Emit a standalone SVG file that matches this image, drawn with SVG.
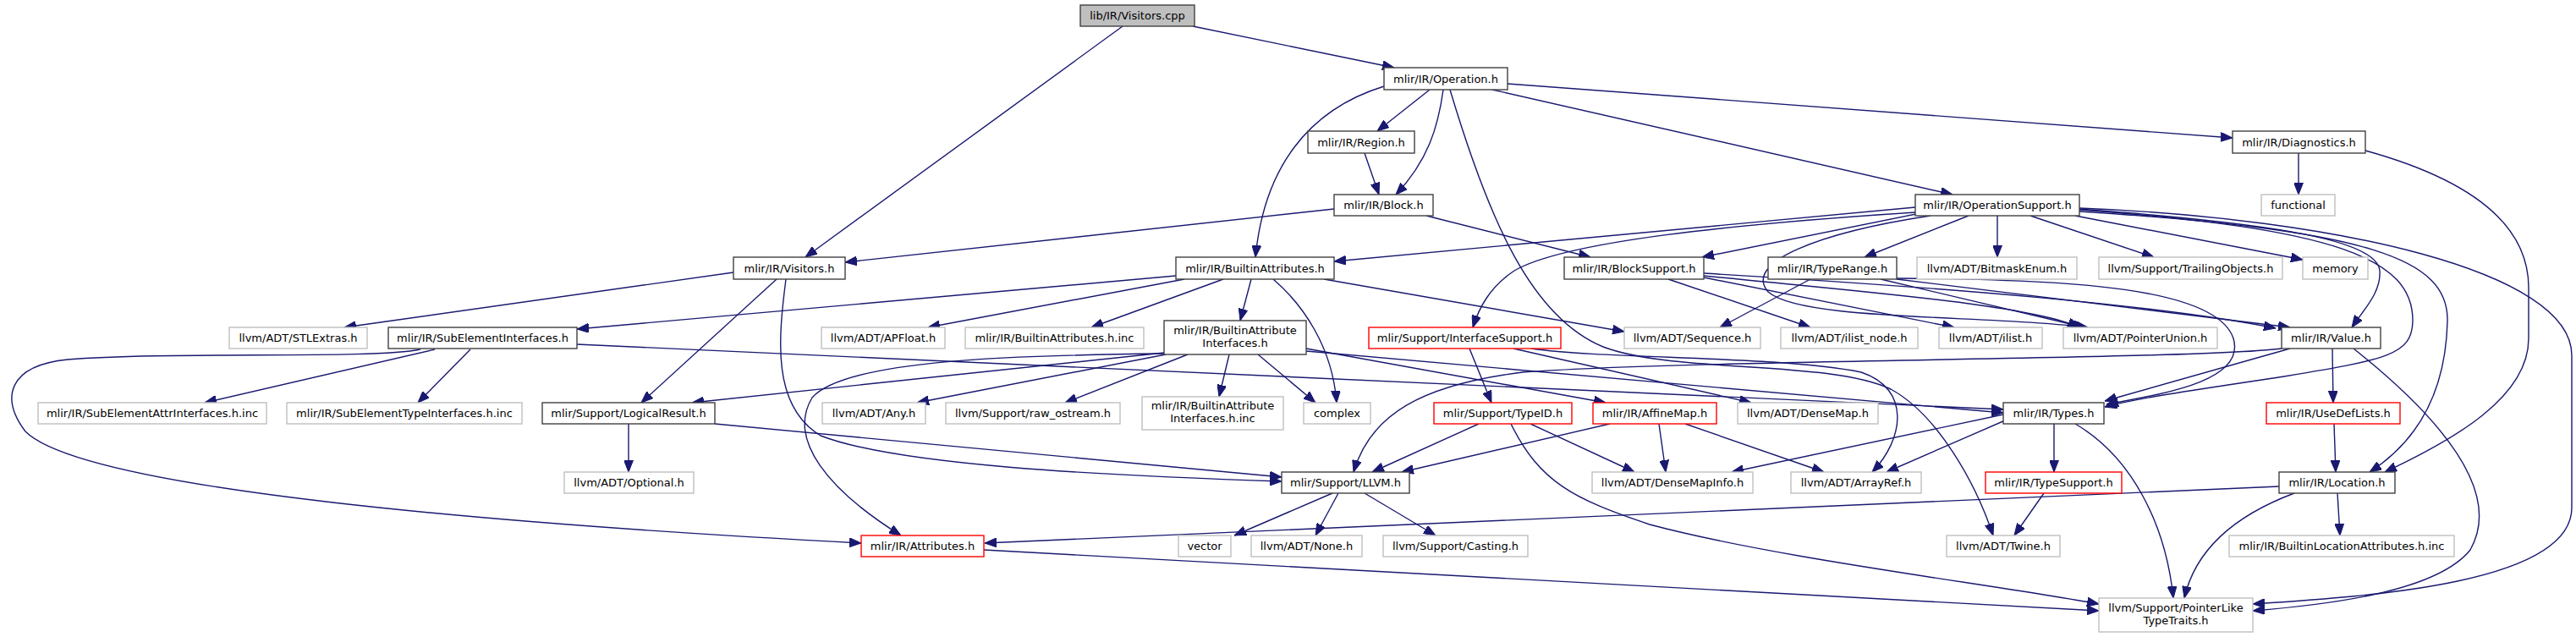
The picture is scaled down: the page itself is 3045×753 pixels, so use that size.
<svg xmlns="http://www.w3.org/2000/svg" width="3045" height="753" viewBox="0 0 3045 753">
<defs>
<style>
rect{stroke-width:1.4}
.n rect{fill:#fff;stroke:#404040}
.g rect{fill:#fff;stroke:#bfbfbf}
.r rect{fill:#fff;stroke:#ff0000}
.m rect{fill:#bfbfbf;stroke:#404040}
text{font-family:"DejaVu Sans","Liberation Sans",sans-serif;font-size:13px;text-anchor:middle;fill:#000}
#edges path{fill:none;stroke:#191970;stroke-width:1.4;marker-end:url(#ah)}
</style>
<marker id="ah" viewBox="0 0 14 11" markerWidth="14" markerHeight="11" markerUnits="userSpaceOnUse" refX="14" refY="5.5" orient="auto">
<path d="M0,0 L14,5.5 L0,11 Z" fill="#191970" stroke="#191970" stroke-width="1"/>
</marker>
</defs>
<rect x="0" y="0" width="3045" height="753" fill="#fff"/>
<g id="edges">
<path d="M1327,31 L952,304"/>
<path d="M1410,31 L1648,80"/>
<path d="M1690,106 L1628,155"/>
<path d="M1706,106 C1700,150 1688,190 1650,230"/>
<path d="M1613,181 L1630,230"/>
<path d="M1636,102 C1545,130 1494,200 1484,304"/>
<path d="M1782,99 L2639,163"/>
<path d="M1764,106 L2308,230"/>
<path d="M1714,106 C1760,260 1810,375 1895,410 C1980,442 2160,425 2235,460 C2290,490 2335,570 2356,633"/>
<path d="M1577,247 L999,310"/>
<path d="M1686,255 L1880,304"/>
<path d="M2717,181 L2717,230"/>
<path d="M2796,178 C2930,215 2989,270 2989,340 L2989,400 C2989,470 2900,520 2819,558"/>
<path d="M2264,245 L1577,309"/>
<path d="M2264,251 C2050,265 1850,285 1790,320 C1760,340 1748,365 1741,387"/>
<path d="M2265,253 L2012,304"/>
<path d="M2327,255 L2204,304"/>
<path d="M2361,255 L2361,304"/>
<path d="M2400,255 L2546,304"/>
<path d="M2453,255 L2722,307"/>
<path d="M2282,255 C2150,275 2060,310 2090,345 C2130,380 2350,372 2468,387"/>
<path d="M2458,247 C2700,265 2810,285 2813,320 C2815,345 2795,365 2780,387"/>
<path d="M2458,248 C2760,270 2853,305 2852,380 C2851,420 2820,425 2700,445 C2600,460 2530,470 2488,481"/>
<path d="M2458,250 C2800,272 2895,305 2893,380 C2891,460 2860,520 2801,558"/>
<path d="M2458,246 C2760,258 3040,320 3040,420 L3040,600 C3040,690 2800,705 2663,714"/>
<path d="M867,322 L407,387"/>
<path d="M918,330 L758,476"/>
<path d="M929,330 C920,400 912,480 970,515 C1060,550 1300,562 1515,569"/>
<path d="M1390,326 L682,389"/>
<path d="M1400,330 L1097,387"/>
<path d="M1446,330 L1290,387"/>
<path d="M1479,330 L1466,379"/>
<path d="M1505,330 C1540,360 1575,410 1580,476"/>
<path d="M1565,330 L1920,392"/>
<path d="M1972,330 L2140,387"/>
<path d="M2014,328 L2310,387"/>
<path d="M2014,326 C2200,345 2400,360 2458,387"/>
<path d="M2014,323 C2300,340 2550,360 2690,388"/>
<path d="M2140,330 L2033,387"/>
<path d="M2223,330 L2464,387"/>
<path d="M2242,330 L2707,387"/>
<path d="M2242,329 C2450,330 2620,340 2640,400 C2655,450 2560,465 2490,478"/>
<path d="M497,413 C440,425 200,415 80,425 C10,432 0,470 30,510 C100,580 600,620 1018,642"/>
<path d="M514,413 L242,476"/>
<path d="M556,413 L494,476"/>
<path d="M682,407 L2368,484"/>
<path d="M1376,418 C1200,420 1000,425 960,470 C930,520 980,580 1065,633"/>
<path d="M1376,417 L818,476"/>
<path d="M1378,419 L1084,476"/>
<path d="M1404,419 L1259,476"/>
<path d="M1453,419 L1441,469"/>
<path d="M1487,419 L1555,476"/>
<path d="M1544,412 L1898,476"/>
<path d="M1544,415 L2368,488"/>
<path d="M1737,412 L1763,476"/>
<path d="M1789,412 L2070,476"/>
<path d="M1810,412 C1900,425 2100,420 2200,440 C2260,460 2250,520 2213,558"/>
<path d="M2697,412 C2600,425 2000,425 1800,440 C1680,455 1620,490 1600,558"/>
<path d="M2707,412 L2488,474"/>
<path d="M2757,412 L2758,476"/>
<path d="M2782,412 C2880,490 2960,580 2920,650 C2880,700 2750,715 2663,722"/>
<path d="M743,501 L743,558"/>
<path d="M845,501 L1515,564"/>
<path d="M1748,501 L1622,558"/>
<path d="M1809,501 L1932,558"/>
<path d="M1786,501 C1820,570 1860,590 1950,620 C2100,660 2350,690 2481,714"/>
<path d="M1903,501 L1657,558"/>
<path d="M1961,501 L1969,558"/>
<path d="M1992,501 L2156,558"/>
<path d="M2368,490 L2047,558"/>
<path d="M2370,497 L2230,558"/>
<path d="M2428,501 L2428,558"/>
<path d="M2453,501 C2520,540 2560,620 2569,707"/>
<path d="M2759,501 L2761,558"/>
<path d="M1575,583 L1459,633"/>
<path d="M1582,583 L1555,633"/>
<path d="M1613,583 L1697,633"/>
<path d="M2416,583 L2381,633"/>
<path d="M2694,575 L1164,642"/>
<path d="M2712,583 C2640,610 2595,650 2582,707"/>
<path d="M2763,583 L2766,633"/>
<path d="M1163,650 L2481,722"/>
</g>
<g id="n_visitors_cpp" class="m"><rect x="1277" y="6" width="135" height="25"/><text x="1344.5" y="23">lib/IR/Visitors.cpp</text></g>
<g id="n_operation" class="n"><rect x="1636" y="80" width="146" height="26"/><text x="1709" y="97.5">mlir/IR/Operation.h</text></g>
<g id="n_region" class="n"><rect x="1546" y="155" width="126" height="26"/><text x="1609" y="172.5">mlir/IR/Region.h</text></g>
<g id="n_diagnostics" class="n"><rect x="2639" y="155" width="157" height="26"/><text x="2717.5" y="172.5">mlir/IR/Diagnostics.h</text></g>
<g id="n_block" class="n"><rect x="1577" y="230" width="117" height="25"/><text x="1635.5" y="247">mlir/IR/Block.h</text></g>
<g id="n_opsupport" class="n"><rect x="2264" y="230" width="194" height="25"/><text x="2361" y="247">mlir/IR/OperationSupport.h</text></g>
<g id="n_functional" class="g"><rect x="2673" y="230" width="87" height="25"/><text x="2716.5" y="247">functional</text></g>
<g id="n_visitors_h" class="n"><rect x="867" y="304" width="132" height="26"/><text x="933" y="321.5">mlir/IR/Visitors.h</text></g>
<g id="n_builtinattrs" class="n"><rect x="1390" y="304" width="187" height="26"/><text x="1483.5" y="321.5">mlir/IR/BuiltinAttributes.h</text></g>
<g id="n_blocksupport" class="n"><rect x="1849" y="304" width="165" height="26"/><text x="1931.5" y="321.5">mlir/IR/BlockSupport.h</text></g>
<g id="n_typerange" class="n"><rect x="2090" y="304" width="152" height="26"/><text x="2166" y="321.5">mlir/IR/TypeRange.h</text></g>
<g id="n_bitmask" class="g"><rect x="2266" y="304" width="189" height="26"/><text x="2360.5" y="321.5">llvm/ADT/BitmaskEnum.h</text></g>
<g id="n_trailing" class="g"><rect x="2481" y="304" width="217" height="26"/><text x="2589.5" y="321.5">llvm/Support/TrailingObjects.h</text></g>
<g id="n_memory" class="g"><rect x="2722" y="304" width="77" height="26"/><text x="2760.5" y="321.5">memory</text></g>
<g id="n_stlextras" class="g"><rect x="271" y="387" width="163" height="25"/><text x="352.5" y="404">llvm/ADT/STLExtras.h</text></g>
<g id="n_subelem" class="n"><rect x="459" y="387" width="223" height="25"/><text x="570.5" y="404">mlir/IR/SubElementInterfaces.h</text></g>
<g id="n_apfloat" class="g"><rect x="971" y="387" width="146" height="25"/><text x="1044" y="404">llvm/ADT/APFloat.h</text></g>
<g id="n_bainc" class="g"><rect x="1141" y="387" width="211" height="25"/><text x="1246.5" y="404">mlir/IR/BuiltinAttributes.h.inc</text></g>
<g id="n_bai" class="n"><rect x="1376" y="379" width="168" height="40"/><text x="1460" y="394.5">mlir/IR/BuiltinAttribute</text><text x="1460" y="409.5">Interfaces.h</text></g>
<g id="n_ifacesupport" class="r"><rect x="1618" y="387" width="227" height="25"/><text x="1731.5" y="404">mlir/Support/InterfaceSupport.h</text></g>
<g id="n_sequence" class="g"><rect x="1920" y="387" width="161" height="25"/><text x="2000.5" y="404">llvm/ADT/Sequence.h</text></g>
<g id="n_ilistnode" class="g"><rect x="2105" y="387" width="162" height="25"/><text x="2186" y="404">llvm/ADT/ilist_node.h</text></g>
<g id="n_ilist" class="g"><rect x="2292" y="387" width="122" height="25"/><text x="2353" y="404">llvm/ADT/ilist.h</text></g>
<g id="n_ptrunion" class="g"><rect x="2439" y="387" width="182" height="25"/><text x="2530" y="404">llvm/ADT/PointerUnion.h</text></g>
<g id="n_value" class="n"><rect x="2697" y="387" width="117" height="25"/><text x="2755.5" y="404">mlir/IR/Value.h</text></g>
<g id="n_seattrinc" class="g"><rect x="45" y="476" width="270" height="25"/><text x="180" y="493">mlir/IR/SubElementAttrInterfaces.h.inc</text></g>
<g id="n_setypeinc" class="g"><rect x="339" y="476" width="278" height="25"/><text x="478" y="493">mlir/IR/SubElementTypeInterfaces.h.inc</text></g>
<g id="n_logicalresult" class="n"><rect x="641" y="476" width="204" height="25"/><text x="743" y="493">mlir/Support/LogicalResult.h</text></g>
<g id="n_any" class="g"><rect x="972" y="476" width="122" height="25"/><text x="1033" y="493">llvm/ADT/Any.h</text></g>
<g id="n_rawostream" class="g"><rect x="1118" y="476" width="206" height="25"/><text x="1221" y="493">llvm/Support/raw_ostream.h</text></g>
<g id="n_baiinc" class="g"><rect x="1350" y="469" width="167" height="39"/><text x="1433.5" y="484">mlir/IR/BuiltinAttribute</text><text x="1433.5" y="499">Interfaces.h.inc</text></g>
<g id="n_complex" class="g"><rect x="1541" y="476" width="79" height="25"/><text x="1580.5" y="493">complex</text></g>
<g id="n_typeid" class="r"><rect x="1695" y="476" width="163" height="25"/><text x="1776.5" y="493">mlir/Support/TypeID.h</text></g>
<g id="n_affinemap" class="r"><rect x="1883" y="476" width="146" height="25"/><text x="1956" y="493">mlir/IR/AffineMap.h</text></g>
<g id="n_densemap" class="g"><rect x="2054" y="476" width="166" height="25"/><text x="2137" y="493">llvm/ADT/DenseMap.h</text></g>
<g id="n_types" class="n"><rect x="2368" y="476" width="119" height="25"/><text x="2427.5" y="493">mlir/IR/Types.h</text></g>
<g id="n_usedeflists" class="r"><rect x="2679" y="476" width="158" height="25"/><text x="2758" y="493">mlir/IR/UseDefLists.h</text></g>
<g id="n_optional" class="g"><rect x="667" y="558" width="153" height="25"/><text x="743.5" y="575">llvm/ADT/Optional.h</text></g>
<g id="n_llvm" class="n"><rect x="1515" y="558" width="151" height="25"/><text x="1590.5" y="575">mlir/Support/LLVM.h</text></g>
<g id="n_densemapinfo" class="g"><rect x="1882" y="558" width="190" height="25"/><text x="1977" y="575">llvm/ADT/DenseMapInfo.h</text></g>
<g id="n_arrayref" class="g"><rect x="2117" y="558" width="154" height="25"/><text x="2194" y="575">llvm/ADT/ArrayRef.h</text></g>
<g id="n_typesupport" class="r"><rect x="2347" y="558" width="161" height="25"/><text x="2427.5" y="575">mlir/IR/TypeSupport.h</text></g>
<g id="n_location" class="n"><rect x="2694" y="558" width="137" height="25"/><text x="2762.5" y="575">mlir/IR/Location.h</text></g>
<g id="n_attributes" class="r"><rect x="1018" y="633" width="145" height="25"/><text x="1090.5" y="650">mlir/IR/Attributes.h</text></g>
<g id="n_vector" class="g"><rect x="1393" y="633" width="62" height="25"/><text x="1424" y="650">vector</text></g>
<g id="n_none" class="g"><rect x="1479" y="633" width="131" height="25"/><text x="1544.5" y="650">llvm/ADT/None.h</text></g>
<g id="n_casting" class="g"><rect x="1635" y="633" width="171" height="25"/><text x="1720.5" y="650">llvm/Support/Casting.h</text></g>
<g id="n_twine" class="g"><rect x="2301" y="633" width="134" height="25"/><text x="2368" y="650">llvm/ADT/Twine.h</text></g>
<g id="n_builtinlocinc" class="g"><rect x="2635" y="633" width="266" height="25"/><text x="2768" y="650">mlir/IR/BuiltinLocationAttributes.h.inc</text></g>
<g id="n_ptrliketraits" class="g"><rect x="2481" y="707" width="182" height="40"/><text x="2572" y="722.5">llvm/Support/PointerLike</text><text x="2572" y="737.5">TypeTraits.h</text></g>
</svg>
